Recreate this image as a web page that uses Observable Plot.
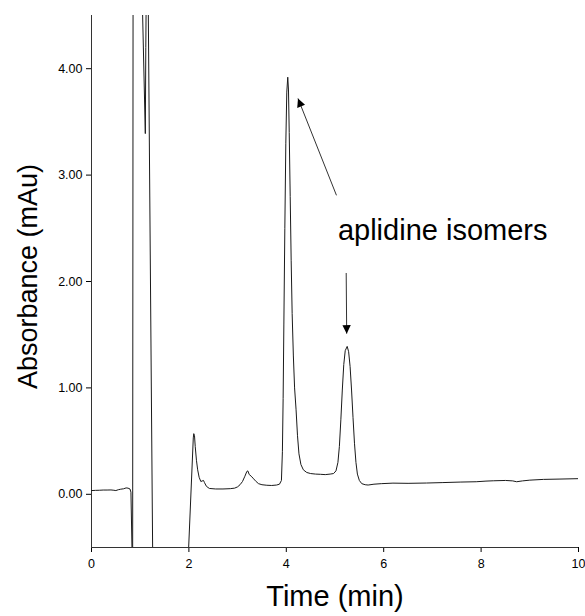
<!DOCTYPE html>
<html><head><meta charset="utf-8">
<script src="https://cdn.jsdelivr.net/npm/d3@7"></script>
<script src="https://cdn.jsdelivr.net/npm/@observablehq/plot@0.6"></script>
<style>
body{margin:0;background:#fff;}
</style>
</head><body><div id="chart"></div>
<script>
// Chromatogram trace: retention time (min) and absorbance (mAu)
const time = [
  0.00,0.08,0.16,0.24,0.32,0.40,0.46,0.50,0.55,0.60,0.66,0.71,0.75,0.79,0.81,
  0.835,0.845,0.855,0.95,1.045,1.105,1.115,1.122,1.14,1.165,1.257,1.30,1.95,
  1.98,2.09,2.10,2.115,2.13,2.155,2.18,2.21,2.245,2.27,2.30,2.32,2.36,2.42,2.55,2.70,2.85,2.94,
  3.00,3.05,3.10,3.15,3.19,3.21,3.24,3.28,3.33,3.38,3.43,3.50,3.60,3.70,3.80,3.86,3.90,
  3.92,3.935,3.95,3.97,3.99,4.01,4.03,4.045,4.06,4.08,4.10,4.12,4.145,4.17,4.20,4.23,4.26,4.30,4.35,4.42,
  4.50,4.60,4.70,4.80,4.90,4.97,5.02,5.06,5.09,5.12,5.15,5.18,5.21,5.25,5.28,5.31,5.34,5.37,5.40,5.43,5.46,
  5.50,5.55,5.62,5.68,5.80,5.95,6.19,6.50,6.88,7.20,7.57,7.90,8.10,8.25,8.50,8.65,8.73,8.85,9.00,9.28,9.60,10.00
];
const absorbance = [
  0.035,0.037,0.038,0.040,0.040,0.041,0.038,0.035,0.043,0.048,0.052,0.060,0.058,0.050,0.020,
  -0.60,-0.60,5.50,6.00,4.60,3.39,4.20,4.60,5.50,4.61,-0.61,-0.70,-0.70,
  -0.66,0.53,0.57,0.55,0.45,0.32,0.23,0.16,0.12,0.125,0.13,0.11,0.075,0.055,0.050,0.050,0.053,0.058,
  0.070,0.090,0.120,0.170,0.215,0.220,0.185,0.170,0.145,0.120,0.100,0.090,0.085,0.083,0.087,0.095,0.130,
  0.40,0.90,1.60,2.50,3.30,3.78,3.92,3.80,3.40,2.80,2.20,1.70,1.30,1.00,0.80,0.55,0.38,0.28,0.23,0.205,
  0.195,0.190,0.188,0.185,0.190,0.195,0.220,0.300,0.450,0.700,0.980,1.220,1.350,1.390,1.340,1.200,0.980,0.720,0.480,0.300,0.190,
  0.130,0.100,0.090,0.087,0.095,0.100,0.105,0.103,0.106,0.110,0.115,0.118,0.124,0.127,0.130,0.126,0.118,0.126,0.133,0.140,0.143,0.147
];

const xTicks = [0, 2, 4, 6, 8, 10];
const yTicks = [0, 1, 2, 3, 4];
const xDomain = [0, 10];
const yDomain = [-0.5, 4.5];

const xTitle = "Time (min)";
const yTitle = "Absorbance (mAu)";

// Annotation
const noteLabel = ["aplidine isomers"];
const noteX = [5.06];
const noteY = [2.48];
const arrowFromX = [5.03, 5.23];
const arrowFromY = [2.81, 2.08];
const arrowToX = [4.24, 5.24];
const arrowToY = [3.72, 1.51];

const trace = time.map((t, i) => ({t, a: absorbance[i]}));
const notes = noteLabel.map((label, i) => ({label, x: noteX[i], y: noteY[i]}));
const arrows = arrowFromX.map((x1, i) => ({x1, y1: arrowFromY[i], x2: arrowToX[i], y2: arrowToY[i]}));

function filledArrow() {
  const ns = "http://www.w3.org/2000/svg";
  const m = document.createElementNS(ns, "marker");
  m.setAttribute("viewBox", "-9 -5 10 10");
  m.setAttribute("markerWidth", 10);
  m.setAttribute("markerHeight", 10);
  m.setAttribute("refX", 0);
  m.setAttribute("refY", 0);
  m.setAttribute("orient", "auto");
  m.setAttribute("markerUnits", "userSpaceOnUse");
  const p = document.createElementNS(ns, "path");
  p.setAttribute("d", "M0,0L-8.5,-4.2L-8.5,4.2Z");
  p.setAttribute("fill", "#000");
  p.setAttribute("stroke", "none");
  m.appendChild(p);
  return m;
}

const font = "'Liberation Sans', Arial, Helvetica, sans-serif";

const chart = Plot.plot({
  width: 585,
  height: 616,
  marginLeft: 91,
  marginRight: 7,
  marginTop: 15,
  marginBottom: 69,
  style: {fontFamily: font, fontSize: "12.5px", color: "#000", background: "#fff"},
  x: {domain: xDomain, ticks: xTicks, tickSize: 5, tickPadding: 7, tickFormat: d3.format("d"), label: null},
  y: {domain: yDomain, ticks: yTicks, tickSize: 5, tickPadding: 4, tickFormat: d3.format(".2f"), label: null},
  marks: [
    Plot.ruleY([yDomain[0]], {stroke: "#333", strokeWidth: 1}),
    Plot.ruleX([xDomain[0]], {stroke: "#333", strokeWidth: 1}),
    Plot.line(trace, {x: "t", y: "a", stroke: "#1a1a1a", strokeWidth: 1, clip: true}),
    Plot.link(arrows, {x1: "x1", y1: "y1", x2: "x2", y2: "y2", stroke: "#333", strokeWidth: 1, markerEnd: filledArrow}),
    Plot.text(notes, {x: "x", y: "y", text: "label", textAnchor: "start", lineAnchor: "middle", fontSize: 29, fontFamily: font, fill: "#000"}),
    Plot.text([xTitle], {frameAnchor: "bottom", textAnchor: "middle", lineAnchor: "middle", dy: 49, fontSize: 29, fontFamily: font, fill: "#000"}),
    Plot.text([yTitle], {frameAnchor: "left", textAnchor: "middle", lineAnchor: "middle", rotate: -90, dx: -63, dy: -5, fontSize: 27, fontFamily: font, fill: "#000"})
  ]
});

document.getElementById("chart").appendChild(chart);
</script>
</body></html>
